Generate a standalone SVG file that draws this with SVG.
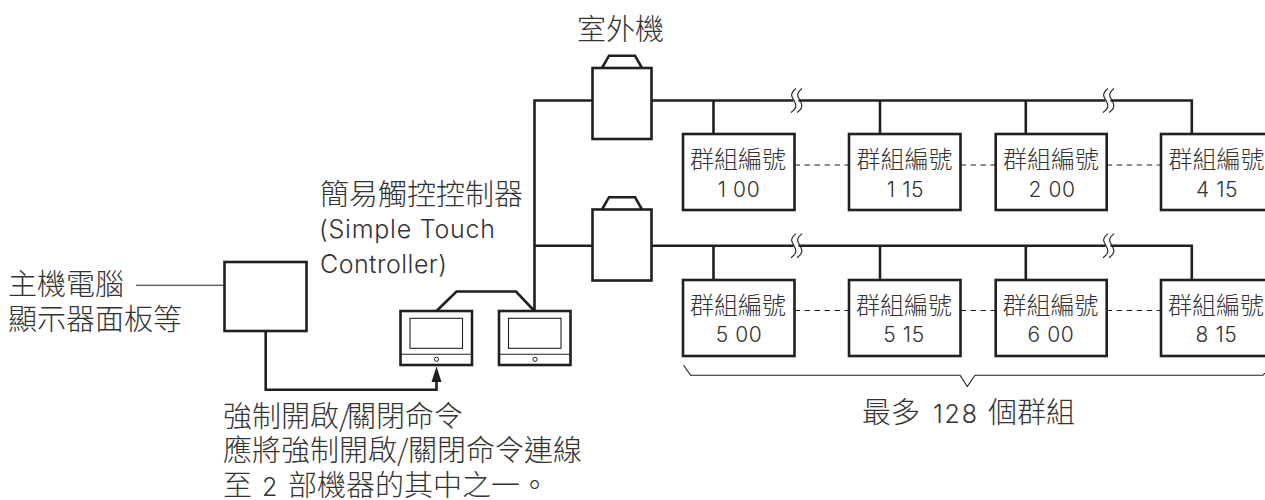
<svg xmlns="http://www.w3.org/2000/svg" width="1265" height="500" viewBox="0 0 1265 500">
<style>
text{font-family:"Noto Sans CJK TC","Noto Sans CJK SC",sans-serif;fill:#333;font-weight:300}
.lat{font-family:"Inter","Noto Sans",sans-serif;font-weight:300;font-size:25px}
.l{font-size:29px}
.g{font-size:24px;text-anchor:middle}
.n{font-family:"Inter","Noto Sans",sans-serif;font-size:21px;text-anchor:middle;letter-spacing:.6px}
.b{fill:#fff;stroke:#231f20;stroke-width:2.600}
.c{fill:none;stroke:#231f20;stroke-width:2.600}
.t{fill:none;stroke:#231f20;stroke-width:1.100}
.d{fill:none;stroke:#231f20;stroke-width:1.100;stroke-dasharray:5.500 4.500}
.gap{fill:none;stroke:#fff;stroke-width:4}
</style>
<defs>
<g id="brk"><path class="gap" d="M-2.500,-1 L2.500,-1 M-2.500,1 L2.500,1"/><path class="t" d="M0,-12 C-7,-6 -4,-4 -2,0 C0,4 2,7 -5,12 M6,-12 C-1,-6 2,-4 4,0 C6,4 8,7 1,12"/></g>
<g id="ctl"><rect class="b" x="0" y="0" width="71.500" height="54"/><rect x="9.500" y="7.300" width="52.500" height="30" fill="none" stroke="#231f20" stroke-width="1.100"/><path class="t" d="M0,43.300 H71.500"/><circle cx="36" cy="48.300" r="2.100" fill="#fff" stroke="#231f20" stroke-width="1"/></g>
<g id="odu"><path class="c" d="M602,0 L609,-12.300 H635 L642,0"/><rect class="b" x="592.500" y="0" width="59" height="71"/></g>
</defs>
<g id="connectors">
<path class="c" d="M534.500,311 V100.500 H592 M534.500,245.700 H592 M652,100.500 H1191.800 V134 M713.500,100.500 V134 M880,100.500 V134 M1025.800,100.500 V134"/>
<path class="c" d="M652,245.700 H1191.800 V280 M713.500,245.700 V280 M880,245.700 V280 M1025.800,245.700 V280"/>
<path class="c" d="M436.500,311 L456.500,291.500 H516 L534.500,311"/>
<path class="c" d="M265.700,331 V389.700 H436.500 V378"/>
<path d="M436.500,366.500 L441.500,382 H431.500 Z" fill="#231f20"/>
<path class="t" d="M136,285.300 H224"/>
<path class="d" d="M794.500,165 H849 M960.500,165 H995.700 M1106.700,165 H1161"/>
<path class="d" d="M794.500,310.500 H849 M960.500,310.500 H995.700 M1106.700,310.500 H1161"/>
<path class="t" d="M683.500,365 L690.500,375.300 H960 L967.300,386.500 L975,375.300 H1263 L1265,373"/>
<use href="#brk" x="796" y="100.500"/><use href="#brk" x="1108" y="100.500"/>
<use href="#brk" x="796" y="245.700"/><use href="#brk" x="1108" y="245.700"/>
</g>
<g id="label-outdoor"><text class="l" x="577" y="40">室外機</text></g>
<g id="odu1"><use href="#odu" y="68"/></g>
<g id="odu2"><use href="#odu" y="209.500"/></g>
<g id="host"><rect class="b" x="224.500" y="262" width="82" height="69"/><text class="l"><tspan x="8" y="295">主機電腦</tspan><tspan x="8" y="330">顯示器面板等</tspan></text></g>
<g id="stc-label"><text class="l"><tspan x="320" y="205">簡易觸控控制器</tspan><tspan class="lat" x="319" y="238" textLength="176">(Simple Touch</tspan><tspan class="lat" x="320" y="273" textLength="127">Controller)</tspan></text></g>
<g id="stc1"><use href="#ctl" x="400.500" y="311"/></g>
<g id="stc2"><use href="#ctl" x="499" y="311"/></g>
<g id="cmd"><text class="l"><tspan x="223" y="427">強制開啟/</tspan><tspan x="347" y="427">關閉命令</tspan><tspan x="223" y="461">應將強制開啟/</tspan><tspan x="408" y="461">關閉命令連線</tspan><tspan x="223" y="496">至</tspan><tspan class="lat" x="262" y="496">2</tspan><tspan x="288" y="496">部機器的其中之一。</tspan></text></g>
<g id="g100"><rect class="b" x="683" y="134" width="111.500" height="76"/><text class="g" x="738" y="168">群組編號</text><text class="n" x="739" y="197">1 00</text></g>
<g id="g115"><rect class="b" x="849" y="134" width="111.500" height="76"/><text class="g" x="904.500" y="168">群組編號</text><text class="n" x="905.500" y="197">1 15</text></g>
<g id="g200"><rect class="b" x="995.700" y="134" width="111" height="76"/><text class="g" x="1051" y="168">群組編號</text><text class="n" x="1052" y="197">2 00</text></g>
<g id="g415"><rect class="b" x="1161" y="134" width="111" height="76"/><text class="g" x="1216.500" y="168">群組編號</text><text class="n" x="1217" y="197">4 15</text></g>
<g id="g500"><rect class="b" x="683" y="280" width="111.500" height="76"/><text class="g" x="738" y="314">群組編號</text><text class="n" x="739" y="342">5 00</text></g>
<g id="g515"><rect class="b" x="849" y="280" width="111.500" height="76"/><text class="g" x="904" y="314">群組編號</text><text class="n" x="904" y="342">5 15</text></g>
<g id="g600"><rect class="b" x="995.700" y="280" width="111" height="76"/><text class="g" x="1050.500" y="314">群組編號</text><text class="n" x="1051" y="342">6 00</text></g>
<g id="g815"><rect class="b" x="1161" y="280" width="111" height="76"/><text class="g" x="1216" y="314">群組編號</text><text class="n" x="1216.500" y="342">8 15</text></g>
<g id="max"><text class="l"><tspan x="862" y="423">最多</tspan><tspan class="lat" x="933" y="423" textLength="44">128</tspan><tspan x="988" y="423">個群組</tspan></text></g>
</svg>
